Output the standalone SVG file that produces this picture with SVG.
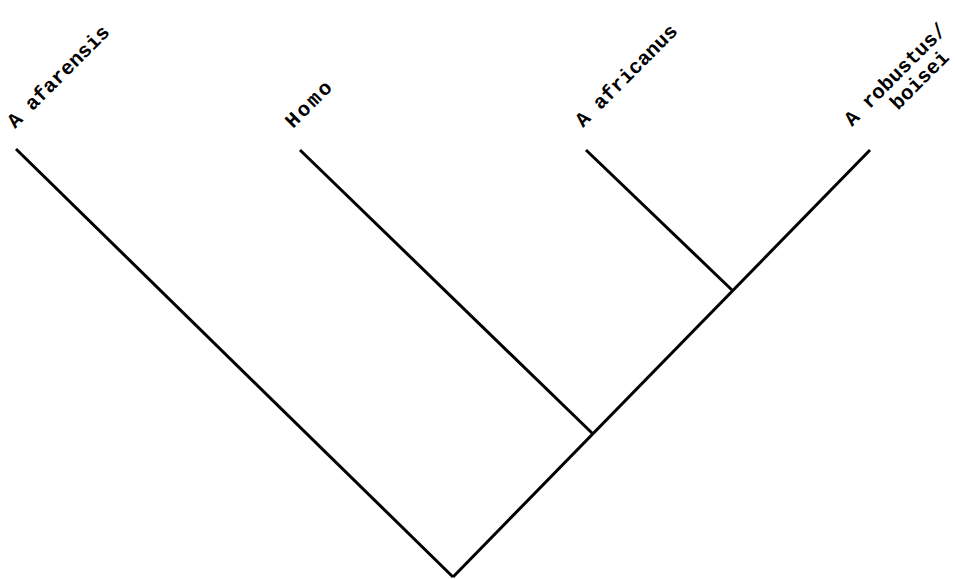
<svg xmlns="http://www.w3.org/2000/svg" width="955" height="579" viewBox="0 0 955 579">
<style>
.lbl{font-family:"Liberation Mono","DejaVu Sans Mono",monospace;font-weight:bold;font-size:20.5px;fill:#000}
.ln{stroke:#000;stroke-width:3;fill:none;stroke-linecap:butt}
</style>
<rect width="955" height="579" fill="#fff"/>
<g id="connectors">
<line class="ln" x1="16" y1="149" x2="453" y2="577"/>
<line class="ln" x1="870" y1="150" x2="453" y2="577"/>
<line class="ln" x1="300" y1="150" x2="593" y2="434"/>
<line class="ln" x1="586" y1="150" x2="733" y2="291"/>
</g>
<g id="afarensis"><text class="lbl" transform="translate(15,129) rotate(-45)">A afarensis</text></g>
<g id="homo"><text class="lbl" transform="translate(293,129) rotate(-45)" font-size="23" letter-spacing="2.5">Homo</text></g>
<g id="africanus"><text class="lbl" transform="translate(583,128) rotate(-45)">A africanus</text></g>
<g id="robustus"><text class="lbl" transform="translate(852,127) rotate(-45)" font-size="19.5">A robustus/<tspan x="44" dy="21">boisei</tspan></text></g>
</svg>
